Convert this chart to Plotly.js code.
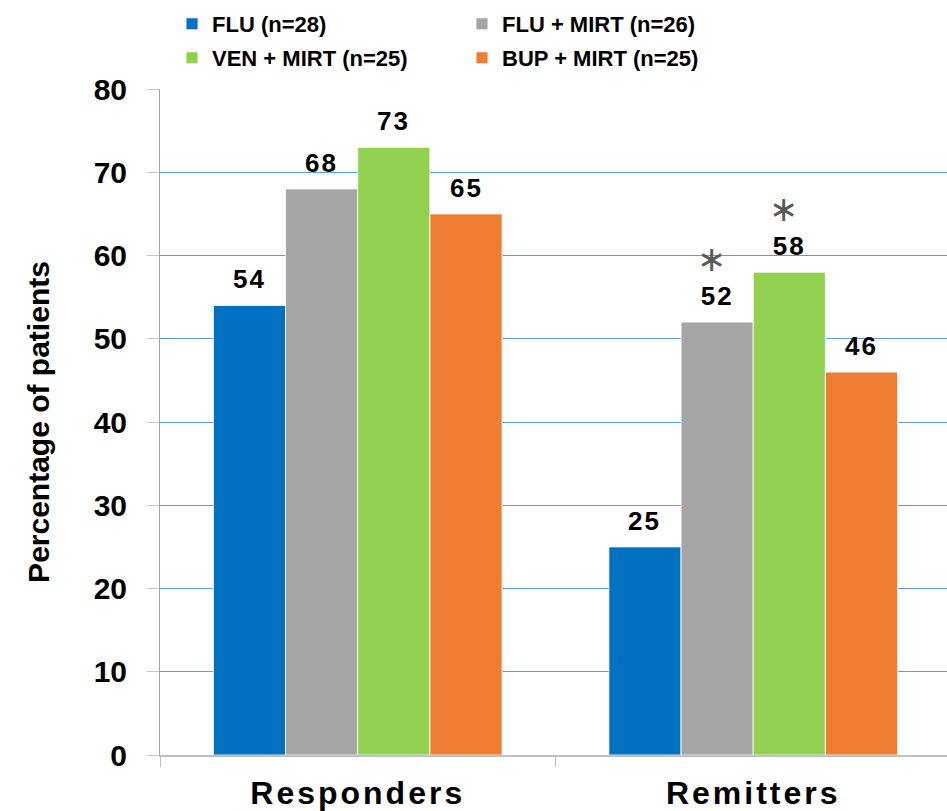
<!DOCTYPE html>
<html>
<head>
<meta charset="utf-8">
<script src="https://cdn.plot.ly/plotly-3.0.1.min.js"></script>
<style>
  html, body { margin: 0; padding: 0; background: #ffffff; }
  #chart { width: 947px; height: 811px; }
  /* slightly tracked-out lettering for category and value labels */
  #chart .xtick text { letter-spacing: 3px; }
  #chart .annotation-text { letter-spacing: 2px; }
</style>
</head>
<body>
<div id="chart"></div>
<script>
// Response and remission rates by treatment arm
const categories = ['Responders', 'Remitters'];
const seriesNames = ['FLU (n=28)', 'FLU + MIRT (n=26)', 'VEN + MIRT (n=25)', 'BUP + MIRT (n=25)'];
const FLU      = [54, 25];
const FLU_MIRT = [68, 52];
const VEN_MIRT = [73, 58];
const BUP_MIRT = [65, 46];
// significance marks (series index, category index)
const starMarks = [[1, 1], [2, 1]];

const seriesValues = [FLU, FLU_MIRT, VEN_MIRT, BUP_MIRT];
const colors = ['#0070C0', '#A5A5A5', '#92D050', '#ED7D31'];
const legendIds = ['legend', 'legend', 'legend2', 'legend2'];

const FONT = 'Liberation Sans, Arial, Helvetica, sans-serif';
const BARGAP = 0.27;
const nSeries = seriesValues.length;
const slot = (1 - BARGAP) / nSeries;

const traces = seriesValues.map((vals, i) => ({
  type: 'bar',
  name: seriesNames[i],
  x: categories,
  y: vals,
  legend: legendIds[i],
  marker: { color: colors[i], line: { color: 'rgba(255,255,255,0.85)', width: 1 } },
  hoverinfo: 'x+y+name'
}));

const isStarred = (i, c) => starMarks.some(([si, sc]) => si === i && sc === c);

// value labels above each bar (with a significance mark where flagged)
const annotations = [];
seriesValues.forEach((vals, i) => {
  vals.forEach((v, c) => {
    const star = '<span style="font-family:\'DejaVu Sans\';font-size:35px;font-weight:normal;color:#595959">\u2217\u2009</span><br>';
    annotations.push({
      x: c + (i - (nSeries - 1) / 2) * slot,
      y: v,
      xref: 'x', yref: 'y',
      text: (isStarred(i, c) ? star : '') + String(v),
      showarrow: false,
      yanchor: 'bottom',
      yshift: 9,
      font: { family: FONT, size: 26, color: '#000000', weight: 'bold' }
    });
  });
});

const legendFont = { family: FONT, size: 22, color: '#000000', weight: 'bold' };

const layout = {
  width: 947,
  height: 811,
  margin: { l: 160, r: 0, t: 89, b: 56, pad: 0 },
  paper_bgcolor: '#ffffff',
  plot_bgcolor: '#ffffff',
  barmode: 'group',
  bargap: BARGAP,
  bargroupgap: 0,
  showlegend: true,
  legend: {
    orientation: 'h',
    xref: 'container', yref: 'container',
    x: 172 / 947, y: 1 - 3 / 811,
    xanchor: 'left', yanchor: 'top',
    entrywidth: 245, entrywidthmode: 'pixels',
    font: legendFont,
    bgcolor: 'rgba(0,0,0,0)',
    traceorder: 'normal'
  },
  legend2: {
    orientation: 'h',
    xref: 'container', yref: 'container',
    x: 172 / 947, y: 1 - 37 / 811,
    xanchor: 'left', yanchor: 'top',
    entrywidth: 245, entrywidthmode: 'pixels',
    font: legendFont,
    bgcolor: 'rgba(0,0,0,0)',
    traceorder: 'normal'
  },
  xaxis: {
    type: 'category',
    range: [-0.5, 1.49],
    showgrid: false,
    showline: true,
    linecolor: '#BFBFBF',
    linewidth: 1.5,
    ticks: 'outside',
    tickson: 'boundaries',
    ticklen: 10,
    tickcolor: '#BFBFBF',
    ticklabelstandoff: 9,
    tickfont: { family: FONT, size: 32, color: '#000000', weight: 'bold' },
    fixedrange: true
  },
  yaxis: {
    range: [0, 80],
    dtick: 10,
    tick0: 0,
    showgrid: true,
    gridcolor: '#5C9DE0',
    gridwidth: 1,
    zeroline: false,
    showline: true,
    linecolor: '#A6A6A6',
    linewidth: 1,
    ticks: 'outside',
    ticklen: 12,
    tickcolor: '#C8C8C8',
    ticklabelstandoff: 14,
    tickfont: { family: FONT, size: 30, color: '#000000', weight: 'bold' },
    title: {
      text: 'Percentage of patients',
      font: { family: FONT, size: 30, color: '#000000', weight: 'bold' },
      standoff: 35
    },
    automargin: false,
    fixedrange: true
  },
  annotations: annotations
};

Plotly.newPlot('chart', traces, layout, { displayModeBar: false, staticPlot: true });
</script>
</body>
</html>
